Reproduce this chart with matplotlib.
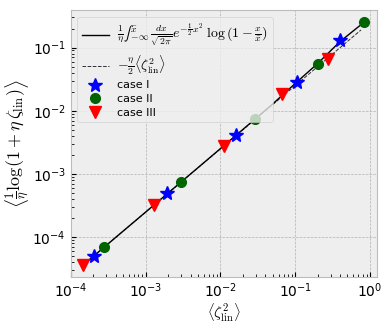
import matplotlib
matplotlib.use("Agg")
import matplotlib.pyplot as plt
import numpy as np

plt.style.use('bmh')

# theory curves
theory_x = [1.5e-4, 1e-3, 1e-2, 0.05, 0.1, 0.2, 0.4, 0.76]
theory_y = [3.75e-5, 2.5e-4, 2.52e-3, 0.0128, 0.027, 0.056, 0.125, 0.23]
linear_x = [1.5e-4, 0.76]
linear_y = [3.75e-5, 0.19]

# simulation points
case1_x = [2.07e-4, 1.94e-3, 0.0163, 0.107, 0.398]
case1_y = [5.1e-5, 4.94e-4, 4.2e-3, 0.0287, 0.131]
case2_x = [2.78e-4, 2.93e-3, 0.0287, 0.2, 0.82]
case2_y = [7.05e-5, 7.55e-4, 7.4e-3, 0.0553, 0.258]
case3_x = [1.47e-4, 1.29e-3, 0.0112, 0.0672, 0.272]
case3_y = [3.7e-5, 3.24e-4, 2.73e-3, 0.0184, 0.0656]

fig = plt.figure(figsize=(3.89, 3.28), dpi=100)
ax = fig.add_subplot(1, 1, 1)
fig.subplots_adjust(left=0.182, right=0.969, top=0.969, bottom=0.157)

ax.plot(theory_x, theory_y, '-', color='k', lw=1.0,
        label='$\\frac{1}{\\eta}\u222b_{-\\infty}^{\\bar{x}}\\,\\frac{dx}{\\sqrt{2\\pi}}e^{-\\frac{1}{2}x^2}\\;\\log\\left(1-\\frac{x}{\\bar{x}}\\right)$')
ax.plot(linear_x, linear_y, '--', color='k', lw=0.7, alpha=0.8,
        label=r'$-\frac{\eta}{2}\langle\zeta_{\rm lin}^2\rangle$')
ax.plot(case1_x, case1_y, '*', color='blue', ms=10, ls='none', label='case I')
ax.plot(case2_x, case2_y, 'o', color='darkgreen', ms=7, ls='none', label='case II')
ax.plot(case3_x, case3_y, 'v', color='red', ms=9, ls='none', label='case III')

ax.set_xscale('log')
ax.set_yscale('log')
ax.set_xlim(1e-4, 1.24)
ax.set_ylim(2.4e-5, 0.39)
ax.tick_params(labelsize=10)
ax.set_xlabel(r'$\left\langle\zeta_{\rm lin}^2\right\rangle$', fontsize=11, labelpad=1)
ax.set_ylabel(r'$\left\langle\frac{1}{\eta}\log(1+\eta\,\zeta_{\rm lin})\right\rangle$', fontsize=13, labelpad=1)

leg = ax.legend(loc='upper left', fontsize=8, numpoints=1, framealpha=0.8,
                labelspacing=0.32, handlelength=2.4, borderaxespad=0.6)
for t in leg.get_texts()[:2]:
    t.set_fontsize(10)

fig.savefig('out.png', dpi=100)
